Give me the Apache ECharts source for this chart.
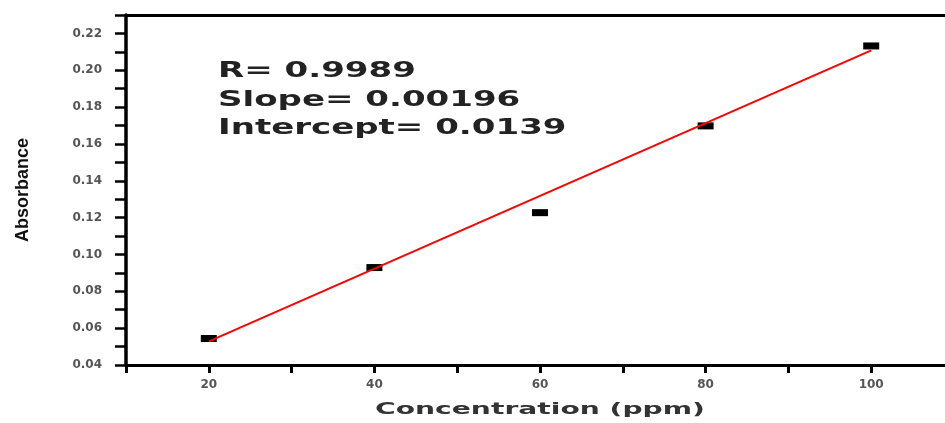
<!DOCTYPE html>
<html>
<head>
<meta charset="utf-8">
<script src="https://cdn.jsdelivr.net/npm/echarts@6/dist/echarts.min.js"></script>
<style>
  html, body { margin: 0; padding: 0; background: #fff; }
  #chart { width: 945px; height: 423px; }
</style>
</head>
<body>
<div id="chart"></div>
<script>
// calibration points
const concentration = [20, 40, 60, 80, 100]
const absorbance = [0.0544, 0.0929, 0.1227, 0.1698, 0.2132]

// linear fit line, end points
const fitX = [20, 100]
const fitY = [0.0528, 0.2108]

const statLines = ['R= 0.9989', 'Slope= 0.00196', 'Intercept= 0.0139']
const xTitle = 'Concentration (ppm)'
const yTitle = 'Absorbance'

const chart = echarts.init(document.getElementById('chart'))

const labelFont = {
  color: '#555',
  fontFamily: 'DejaVu Sans',
  fontWeight: 'bold',
  fontSize: 12
}

chart.setOption({
  animation: false,
  backgroundColor: '#fff',
  grid: {
    left: 126,
    right: -9,
    top: 15,
    bottom: 58,
    outerBoundsMode: 'none'
  },
  xAxis: [
    {
      type: 'value',
      min: 10,
      max: 110,
      interval: 10,
      splitLine: { show: false },
      axisLine: { lineStyle: { color: '#000', width: 3 } },
      axisTick: { show: true, length: 8, lineStyle: { color: '#000', width: 3 } },
      axisLabel: Object.assign({
        margin: 14,
        formatter: v => (v % 20 === 0 ? String(v) : '')
      }, labelFont)
    },
    {
      // top frame line
      type: 'value',
      position: 'top',
      min: 10,
      max: 110,
      splitLine: { show: false },
      axisLine: { lineStyle: { color: '#000', width: 3 } },
      axisTick: { show: false },
      axisLabel: { show: false }
    }
  ],
  yAxis: {
    type: 'value',
    min: 0.04,
    max: 0.23,
    interval: 0.01,
    name: yTitle,
    nameLocation: 'middle',
    nameRotate: 90,
    nameGap: 94,
    nameTextStyle: {
      color: '#111',
      fontFamily: 'Liberation Sans',
      fontWeight: 'bold',
      fontSize: 18
    },
    splitLine: { show: false },
    axisLine: { lineStyle: { color: '#000', width: 3.5 } },
    axisTick: { show: true, length: 11, lineStyle: { color: '#000', width: 2.5 } },
    axisLabel: Object.assign({
      margin: 24,
      formatter: v => (Math.round(v * 100) % 2 === 0 ? v.toFixed(2) : '')
    }, labelFont)
  },
  graphic: [
    {
      type: 'text',
      x: 540,
      y: 410,
      scaleX: 1.76,
      style: {
        text: xTitle,
        fill: '#333',
        font: 'bold 16px "DejaVu Sans"',
        textAlign: 'center',
        textVerticalAlign: 'middle'
      }
    }
  ].concat(statLines.map((t, i) => ({
    type: 'text',
    x: 218,
    y: [72, 101, 129][i],
    scaleX: 1.62,
    style: {
      text: t,
      fill: '#222',
      font: 'bold 21px "DejaVu Sans"',
      textAlign: 'left',
      textVerticalAlign: 'middle'
    }
  }))),
  series: [
    {
      name: 'data',
      type: 'scatter',
      symbol: 'rect',
      symbolSize: [16, 7],
      itemStyle: { color: '#000', opacity: 1 },
      data: concentration.map((c, i) => [c, absorbance[i]]),
      z: 2
    },
    {
      name: 'fit',
      type: 'line',
      showSymbol: false,
      lineStyle: { color: '#ff0000', width: 2 },
      data: fitX.map((c, i) => [c, fitY[i]]),
      z: 3
    }
  ]
})
</script>
</body>
</html>
